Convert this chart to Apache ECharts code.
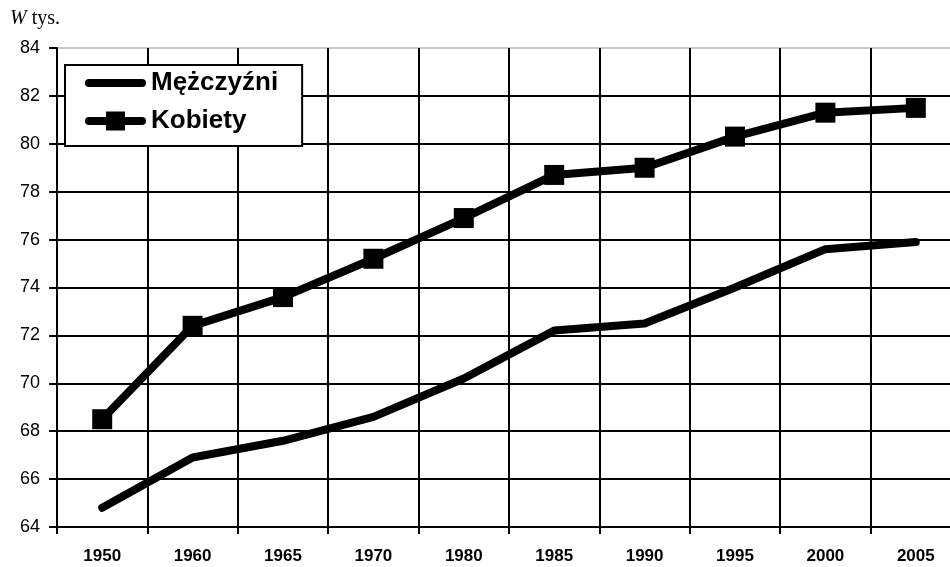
<!DOCTYPE html>
<html>
<head>
<meta charset="utf-8">
<script src="https://cdn.jsdelivr.net/npm/echarts@6/dist/echarts.min.js"></script>
<style>
  html, body { margin: 0; padding: 0; background: #fff; }
  #chart { width: 950px; height: 567px; }
</style>
</head>
<body>
<div id="chart"></div>
<script>
// Years on the category axis
const years = ['1950', '1960', '1965', '1970', '1980', '1985', '1990', '1995', '2000', '2005'];
// Life expectancy values
const mezczyzni = [64.8, 66.9, 67.6, 68.6, 70.2, 72.2, 72.5, 74.0, 75.6, 75.9];
const kobiety = [68.5, 72.4, 73.6, 75.2, 76.9, 78.7, 79.0, 80.3, 81.3, 81.5];
// Value axis range
const yMin = 64, yMax = 84, yStep = 2;

const sans = '"Liberation Sans", Arial, sans-serif';
const serif = '"Liberation Serif", "Times New Roman", serif';

// Horizontal grid line colours: the top line is light grey
const hColors = [];
for (let v = yMin; v <= yMax; v += yStep) hColors.push(v === yMax ? '#c8c8c8' : '#000');

// Legend icons: thick rounded stroke, with a square marker for the second series.
// The leading moveTo points fix the icon's bounding box so both icons scale alike.
const lineIcon = 'path://M0,0 M61,20 M4,6 L57,6 A4,4 0 0 1 57,14 L4,14 A4,4 0 0 1 4,6 Z';
const squareIcon = 'path://M0,0 M61,20 M4,6 L57,6 A4,4 0 0 1 57,14 L4,14 A4,4 0 0 1 4,6 Z M21,0.5 L40,0.5 L40,19.5 L21,19.5 Z';

const chart = echarts.init(document.getElementById('chart'));
chart.setOption({
  animation: false,
  backgroundColor: '#fff',
  title: {
    text: '{w|W} {t|tys.}',
    left: 10, top: 9, padding: 0,
    textStyle: {
      fontWeight: 'normal',
      rich: {
        w: { fontFamily: serif, fontStyle: 'italic', fontWeight: 'normal', fontSize: 20, color: '#000' },
        t: { fontFamily: serif, fontWeight: 'normal', fontSize: 20, color: '#000' }
      }
    }
  },
  legend: {
    left: 65, top: 65,
    orient: 'vertical',
    backgroundColor: '#fff',
    borderColor: '#000',
    borderWidth: 2,
    borderRadius: 0,
    padding: [5, 24, 12, 20],
    itemGap: 12,
    itemWidth: 61,
    itemHeight: 20,
    formatter: '{a|{name}}',
    textStyle: {
      color: '#000',
      rich: { a: { fontFamily: sans, fontWeight: 'bold', fontSize: 26, color: '#000' } }
    },
    data: [
      { name: 'Mężczyźni', icon: lineIcon, itemStyle: { color: '#000' } },
      { name: 'Kobiety', icon: squareIcon, itemStyle: { color: '#000' } }
    ]
  },
  grid: { left: 57, top: 48, right: -11, bottom: 40, containLabel: false, outerBoundsMode: 'none' },
  xAxis: {
    type: 'category',
    data: years,
    boundaryGap: true,
    axisLine: { show: true, lineStyle: { color: '#000', width: 2 } },
    axisTick: { show: true, length: 7, lineStyle: { color: '#000', width: 2 } },
    splitLine: { show: true, lineStyle: { color: '#000', width: 2 } },
    axisLabel: { fontFamily: sans, fontWeight: 'bold', fontSize: 17, color: '#000', margin: 21 }
  },
  yAxis: {
    type: 'value',
    min: yMin, max: yMax, interval: yStep,
    axisLine: { show: true, lineStyle: { color: '#000', width: 2 } },
    axisTick: { show: true, length: 8, lineStyle: { color: '#000', width: 2 } },
    splitLine: { show: true, lineStyle: { color: hColors, width: 2 } },
    axisLabel: { fontFamily: sans, fontSize: 18, color: '#000', margin: 17 }
  },
  series: [
    {
      name: 'Mężczyźni',
      type: 'line',
      data: mezczyzni,
      symbol: 'none',
      lineStyle: { color: '#000', width: 8, cap: 'round', join: 'round' },
      itemStyle: { color: '#000' },
      z: 3
    },
    {
      name: 'Kobiety',
      type: 'line',
      data: kobiety,
      symbol: 'rect',
      symbolSize: 20,
      showAllSymbol: true,
      lineStyle: { color: '#000', width: 8, cap: 'round', join: 'round' },
      itemStyle: { color: '#000', borderWidth: 0 },
      z: 3
    }
  ]
});
</script>
</body>
</html>
